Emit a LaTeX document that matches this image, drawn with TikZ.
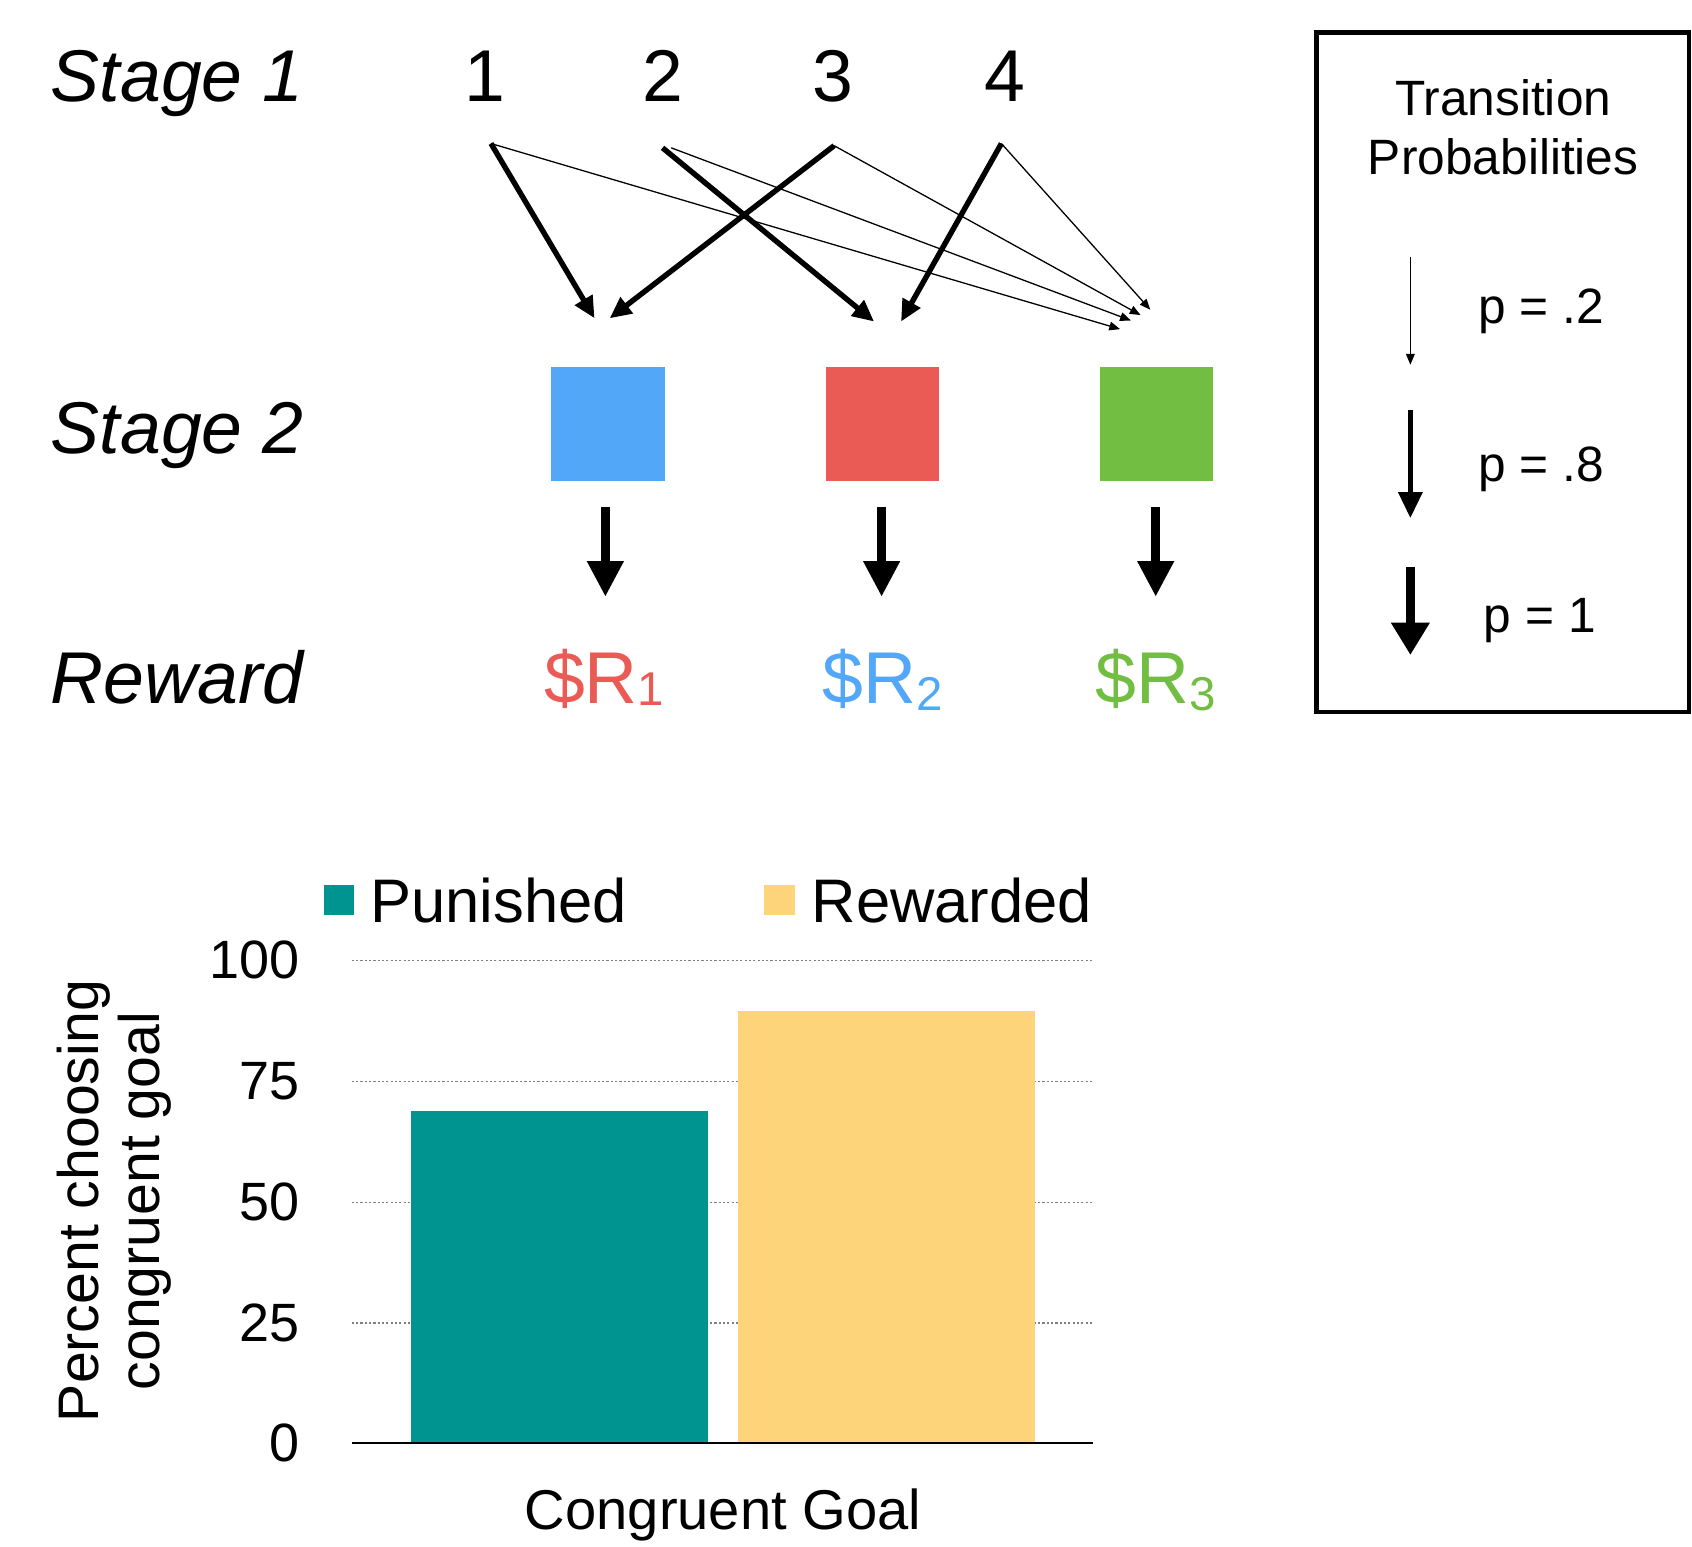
\documentclass[tikz,border=0pt]{standalone}
\usepackage{fontspec}
\setmainfont{Liberation Sans}
\usetikzlibrary{arrows.meta}
\definecolor{sqblue}{HTML}{52A7F8}
\definecolor{sqred}{HTML}{EA5B56}
\definecolor{sqgreen}{HTML}{72BE42}
\definecolor{barteal}{HTML}{009490}
\definecolor{baryel}{HTML}{FED47A}
\begin{document}
\begin{tikzpicture}[x=1pt,y=-1pt,
  stagelbl/.style={anchor=base west,inner sep=0,font=\fontsize{68}{80}\selectfont\itshape},
  numlbl/.style={anchor=base,inner sep=0,font=\fontsize{68}{80}\selectfont},
  sq/.style={minimum width=105pt,minimum height=105pt,inner sep=0},
  thickarr/.style={line width=5pt,-{Triangle[length=20pt,width=18pt]}},
  thinarr/.style={line width=1.2pt,-{Triangle[length=10pt,width=8pt]}},
  rewarr/.style={line width=8pt,-{Triangle[length=33pt,width=32pt]}},
  rewlbl/.style={anchor=base,inner sep=0,font=\fontsize{68}{80}\selectfont},
  leglbl/.style={anchor=base,inner sep=0,font=\fontsize{46}{55}\selectfont},
  ticklbl/.style={anchor=east,inner sep=0,font=\fontsize{50}{60}\selectfont},
  grid/.style={gray,line width=1pt,dash pattern=on 2pt off 2pt},
  keytxt/.style={anchor=base west,inner sep=0,font=\fontsize{57}{68}\selectfont}
]
\useasboundingbox (0,0) rectangle (1568,1433);

% stage labels
\node[stagelbl] (st1) at (47,94) {Stage 1};
\node[stagelbl] (st2) at (47,420) {Stage 2};
\node[stagelbl] (rw) at (47,652) {Reward};

% stage 1 numbers
\node[numlbl] (n1) at (449,94) {1};
\node[numlbl] (n2) at (614,94) {2};
\node[numlbl] (n3) at (772,94) {3};
\node[numlbl] (n4) at (931,94) {4};

\coordinate (a1) at (455,133);
\coordinate (a2) at (614,137);
\coordinate (a2t) at (622,137);
\coordinate (a3) at (773,135);
\coordinate (a4) at (928,133);

\coordinate (e1) at (551,295);
\coordinate (e2) at (810,298);
\coordinate (e3) at (565,295);
\coordinate (e4) at (835,298);
\coordinate (t1) at (1038,305);
\coordinate (t2) at (1048,297);
\coordinate (t3) at (1057,292);
\coordinate (t4) at (1066,287);

\draw[thinarr] (a1) -- (t1);
\draw[thinarr] (a2t) -- (t2);
\draw[thinarr] (a3) -- (t3);
\draw[thinarr] (a4) -- (t4);
\draw[thickarr] (a1) -- (e1);
\draw[thickarr] (a2) -- (e2);
\draw[thickarr] (a3) -- (e3);
\draw[thickarr] (a4) -- (e4);

% stage 2 squares
\node[sq,fill=sqblue] (b1) at (563.5,393) {};
\node[sq,fill=sqred] (b2) at (818,393) {};
\node[sq,fill=sqgreen] (b3) at (1071.5,393) {};

\coordinate (d1) at (561,470);
\coordinate (d2) at (817,470);
\coordinate (d3) at (1071,470);
\coordinate (f1) at (561,553);
\coordinate (f2) at (817,553);
\coordinate (f3) at (1071,553);
\draw[rewarr] (d1) -- (f1);
\draw[rewarr] (d2) -- (f2);
\draw[rewarr] (d3) -- (f3);

% rewards
\node[rewlbl,text=sqred] (r1) at (560,652) {\$R\raisebox{-2pt}{\fontsize{44}{50}\selectfont 1}};
\node[rewlbl,text=sqblue] (r2) at (818,652) {\$R\raisebox{-6pt}{\fontsize{44}{50}\selectfont 2}};
\node[rewlbl,text=sqgreen] (r3) at (1071,652) {\$R\raisebox{-6pt}{\fontsize{44}{50}\selectfont 3}};

% legend box
\draw[line width=4pt] (1220,30) rectangle (1565,660);
\node[leglbl] (lt1) at (1393,107) {Transition};
\node[leglbl] (lt2) at (1393,162) {Probabilities};
\coordinate (k1s) at (1307,238);
\coordinate (k1e) at (1307,338);
\coordinate (k2s) at (1307,380);
\coordinate (k2e) at (1307,480);
\coordinate (k3s) at (1307,525);
\coordinate (k3e) at (1307,607);
\draw[line width=1.2pt,-{Triangle[length=10pt,width=8pt]}] (k1s) -- (k1e);
\draw[line width=4pt,-{Triangle[length=24pt,width=22pt]}] (k2s) -- (k2e);
\draw[line width=8pt,-{Triangle[length=30pt,width=34pt]}] (k3s) -- (k3e);
\node[leglbl] (p1) at (1428,300) {p = .2};
\node[leglbl] (p2) at (1428,446) {p = .8};
\node[leglbl] (p3) at (1427,586) {p = 1};

% bar chart
\draw[grid] (326,890) -- (1013,890);
\draw[grid] (326,1002) -- (1013,1002);
\draw[grid] (326,1114) -- (1013,1114);
\draw[grid] (326,1226) -- (1013,1226);
\fill[barteal] (381,1030) rectangle (656,1337);
\fill[baryel] (684,937) rectangle (959,1337);
\draw[line width=1.5pt] (326,1337) -- (1013,1337);

\node[ticklbl] (y100) at (278,890) {100};
\node[ticklbl] (y75) at (278,1002) {75};
\node[ticklbl] (y50) at (278,1114) {50};
\node[ticklbl] (y25) at (278,1226) {25};
\node[ticklbl] (y0) at (278,1337) {0};

\node[rotate=90,align=center,inner sep=0,font=\fontsize{53}{57}\selectfont] (ylab) at (106,1113) {Percent choosing\\congruent goal};
\node[anchor=base,inner sep=0,font=\fontsize{52}{60}\selectfont] (xlab) at (670,1417) {Congruent Goal};

% key
\fill[barteal] (300,820) rectangle (328,848);
\node[keytxt] (kp) at (343,855) {Punished};
\fill[baryel] (708,820) rectangle (737,848);
\node[keytxt] (kr) at (752,855) {Rewarded};
\end{tikzpicture}
\end{document}
